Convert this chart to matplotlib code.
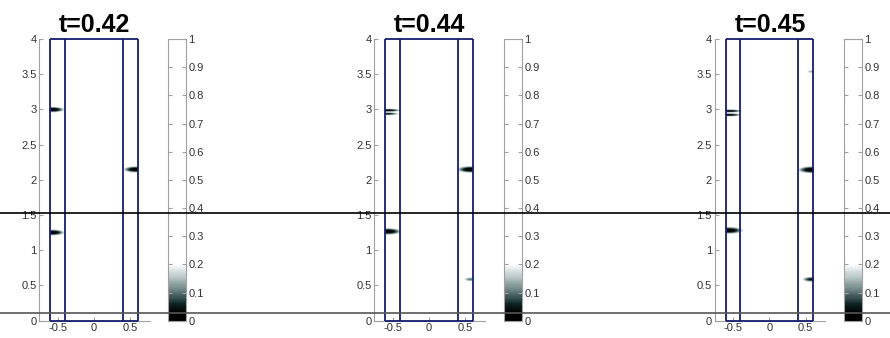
import numpy as np
import matplotlib
matplotlib.use("Agg")
import matplotlib.pyplot as plt
import matplotlib.transforms as mtransforms
from matplotlib.colors import LinearSegmentedColormap
from matplotlib.lines import Line2D

plt.rcParams['font.family'] = ['Liberation Sans', 'DejaVu Sans']

# パネルごとのタイトル
titles = ["t=0.42", "t=0.44", "t=0.45"]

# 暗いスポット（壁側: -1=左, 1=右）
blob_side = [[-1, -1, 1],
             [-1, -1, -1, 1, 1],
             [-1, -1, -1, 1, 1, 1]]
blob_y = [[3.00, 1.255, 2.15],
          [2.99, 2.94, 1.27, 2.15, 0.59],
          [2.98, 2.925, 1.285, 3.54, 2.145, 0.59]]
blob_len = [[0.36, 0.36, 0.36],
            [0.40, 0.36, 0.42, 0.40, 0.26],
            [0.42, 0.40, 0.44, 0.20, 0.40, 0.30]]
blob_h = [[0.085, 0.09, 0.095],
          [0.045, 0.045, 0.10, 0.10, 0.08],
          [0.045, 0.045, 0.105, 0.065, 0.105, 0.085]]
blob_depth = [[1.0, 1.0, 1.0],
              [1.0, 0.97, 1.0, 1.0, 0.9],
              [1.0, 1.0, 1.0, 0.87, 1.0, 0.96]]

# 水平線（データ座標）
hline_y = [1.53, 0.105]
hline_color = ["black", "#555555"]

cbar_ticks = [0, 0.1, 0.2, 0.3, 0.4, 0.5, 0.6, 0.7, 0.8, 0.9, 1.0]
cbar_labels = ["0", "0.1", "0.2", "0.3", "0.4", "0.5", "0.6", "0.7", "0.8", "0.9", "1"]

cmap = LinearSegmentedColormap.from_list(
    "wake",
    [(0.0, "#000000"), (0.03, "#000000"), (0.06, "#0f2828"),
     (0.10, "#5f7676"), (0.15, "#b4c4c4"), (0.20, "#ffffff"), (1.0, "#ffffff")])

fig = plt.figure(figsize=(8.9, 3.38), dpi=100)

ax_left = [0.0442, 0.4206, 0.8030]
cb_left = [0.1888, 0.5663, 0.9483]
bottom, height = 0.0512, 0.8334

xs = np.linspace(-0.6, 0.6, 300)
ys = np.linspace(0, 4, 1200)
X, Y = np.meshgrid(xs, ys)

edge = "#141e6e"
grey = "#a0a0a0"
axes = []
for k in range(3):
    ax = fig.add_axes([ax_left[k], bottom, 0.1243, height])
    cax = fig.add_axes([cb_left[k], bottom, 0.0197, height])
    axes.append(ax)

    dark = np.zeros_like(X)
    for s, yc, ln, h, d in zip(blob_side[k], blob_y[k], blob_len[k], blob_h[k], blob_depth[k]):
        wall = 0.57 * s
        v = d * np.exp(-(((X - wall) / ln) ** 2 + ((Y - yc) / h) ** 2))
        dark = np.maximum(dark, v)
    field = 1 - dark

    im = ax.imshow(field, extent=(-0.6, 0.6, 0, 4), origin="lower", aspect="auto",
                   cmap=cmap, vmin=0, vmax=1, interpolation="bilinear")
    ax.vlines([-0.6, -0.4, 0.4, 0.6], 0, 4, color=edge, lw=1.3, zorder=3)
    ax.hlines([0, 4], -0.6, 0.6, color=edge, lw=1.3, zorder=3, clip_on=False)
    ax.set_xlim(-0.75, 0.77)
    ax.set_ylim(0, 4)
    ax.set_xticks([-0.5, 0, 0.5])
    ax.set_xticklabels(["-0.5", "0", "0.5"])
    ax.set_yticks([0, 0.5, 1, 1.5, 2, 2.5, 3, 3.5, 4])
    ax.set_yticklabels(["0", "0.5", "1", "1.5", "2", "2.5", "3", "3.5", "4"])
    for sp in ["top", "right"]:
        ax.spines[sp].set_visible(False)
    for sp in ["left", "bottom"]:
        ax.spines[sp].set_color(grey)
    ax.tick_params(direction="in", length=3, color=grey, labelcolor="#333333",
                   labelsize=8, pad=2)
    ax.set_title(titles[k], fontsize=18, fontweight="bold", pad=5)

    cb = fig.colorbar(im, cax=cax, ticks=cbar_ticks)
    cb.ax.set_yticklabels(cbar_labels)
    cb.outline.set_edgecolor(grey)
    cax.tick_params(direction="in", length=3, color=grey, labelcolor="#333333",
                    labelsize=8, left=True, right=True, pad=2)

# 図全体を横切る水平線
trans = mtransforms.blended_transform_factory(fig.transFigure, axes[0].transData)
for yv, c in zip(hline_y, hline_color):
    fig.add_artist(Line2D([0, 1], [yv, yv], transform=trans, color=c, lw=1.2, zorder=10))

fig.savefig("out.png", dpi=100)
